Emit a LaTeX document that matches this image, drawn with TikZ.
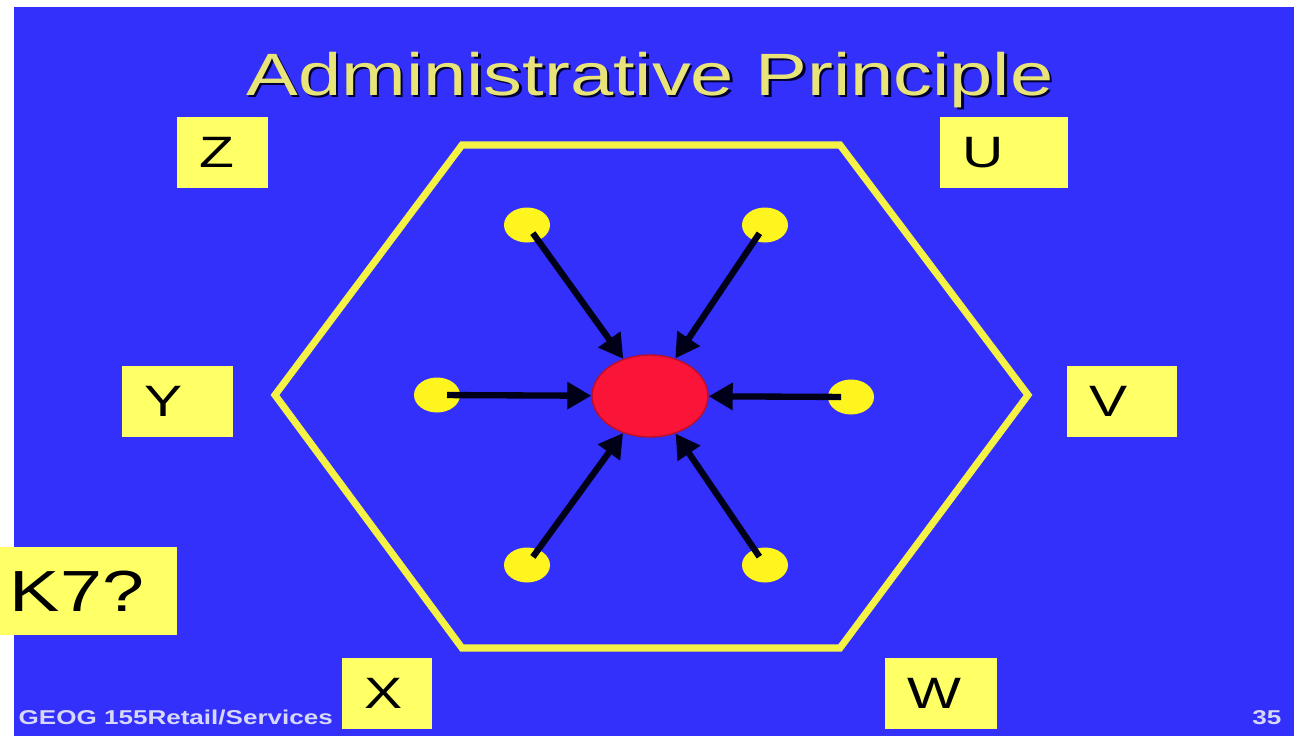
\documentclass[tikz,border=0pt]{standalone}
\usepackage{fontspec}
\setmainfont{Liberation Sans}
\usetikzlibrary{arrows.meta, shapes.geometric}
\definecolor{slideblue}{RGB}{50,48,250}
\definecolor{labelyellow}{RGB}{255,255,102}
\definecolor{hexyellow}{RGB}{245,242,70}
\definecolor{dotyellow}{RGB}{255,245,30}
\definecolor{hubred}{RGB}{250,20,55}
\definecolor{titleyellow}{RGB}{232,228,120}
\definecolor{footgray}{RGB}{215,215,250}
\newcommand{\wide}[1]{\scalebox{1.3}[1]{#1}}

\begin{document}
\begin{tikzpicture}[
  lbl/.style={fill=labelyellow, inner xsep=0.22cm, inner ysep=0pt,
    minimum height=0.71cm, align=left, font=\fontsize{12.5}{14}\selectfont},
  dot/.style={ellipse, fill=dotyellow, inner sep=0pt,
    minimum width=0.46cm, minimum height=0.35cm},
  hubnode/.style={ellipse, fill=hubred, draw=hubred!75!black, thin, inner sep=0pt,
    minimum width=1.16cm, minimum height=0.82cm},
  hexline/.style={draw=hexyellow, line width=2pt, line join=miter},
  link/.style={-{Triangle[length=2.4mm, width=2.6mm]}, line width=1.8pt, black!90!blue,
    shorten <=1mm},
  foot/.style={text=footgray, font=\fontsize{5.7}{7}\selectfont\bfseries, inner sep=0pt},
]
\useasboundingbox (0,0) rectangle (12.94,-7.36);

% --- Slide background ---
\fill[white] (0,0) rectangle (12.94,-7.36);
\fill[slideblue] (0.14,-0.07) rectangle (12.94,-7.36);

% --- Title ---
\node[anchor=base, text=black!80!blue, font=\fontsize{17}{20}\selectfont] (titleshadow) at (6.525,-0.97) {\wide{Administrative Principle}};
\node[anchor=base, text=titleyellow, font=\fontsize{17}{20}\selectfont] (title) at (6.50,-0.95) {\wide{Administrative Principle}};

% --- Hexagon ---
\draw[hexline] (4.62,-1.45) -- (8.40,-1.45) -- (10.28,-3.95) -- (8.40,-6.48)
  -- (4.62,-6.48) -- (2.75,-3.95) -- cycle;

% --- Corner labels ---
\node[lbl, text width=0.47cm] (z) at (2.225,-1.525) {\wide{Z}};
\node[lbl, text width=0.84cm] (u) at (10.04,-1.525) {\wide{U}};
\node[lbl, text width=0.67cm] (y) at (1.775,-4.015) {\wide{Y}};
\node[lbl, text width=0.66cm] (v) at (11.22,-4.015) {\wide{V}};
\node[lbl, text width=0.46cm] (x) at (3.87,-6.93) {\wide{X}};
\node[lbl, text width=0.68cm] (w) at (9.41,-6.93) {\wide{W}};
\node[lbl, text width=1.57cm, inner xsep=0.10cm, minimum height=0.88cm,
  font=\fontsize{16.5}{18}\selectfont] (k7) at (0.885,-5.91) {\wide{K7?}};

% --- Centre and lower order places ---
\node[hubnode] (hub) at (6.50,-3.96) {};
\node[dot] (dul) at (5.27,-2.25) {};
\node[dot] (dur) at (7.65,-2.25) {};
\node[dot] (dl) at (4.37,-3.95) {};
\node[dot] (dr) at (8.51,-3.97) {};
\node[dot] (dll) at (5.27,-5.65) {};
\node[dot] (dlr) at (7.65,-5.65) {};

% --- Arrows to the centre ---
\draw[link] (dul.center) -- (hub);
\draw[link] (dur.center) -- (hub);
\draw[link] (dl.center) -- (hub);
\draw[link] (dr.center) -- (hub);
\draw[link] (dll.center) -- (hub);
\draw[link] (dlr.center) -- (hub);

% --- Footer ---
\node[foot, anchor=base west] (course) at (0.18,-7.24) {\wide{GEOG 155Retail/Services}};
\node[foot, anchor=base east] (page) at (12.82,-7.24) {\wide{35}};

\end{tikzpicture}
\end{document}
